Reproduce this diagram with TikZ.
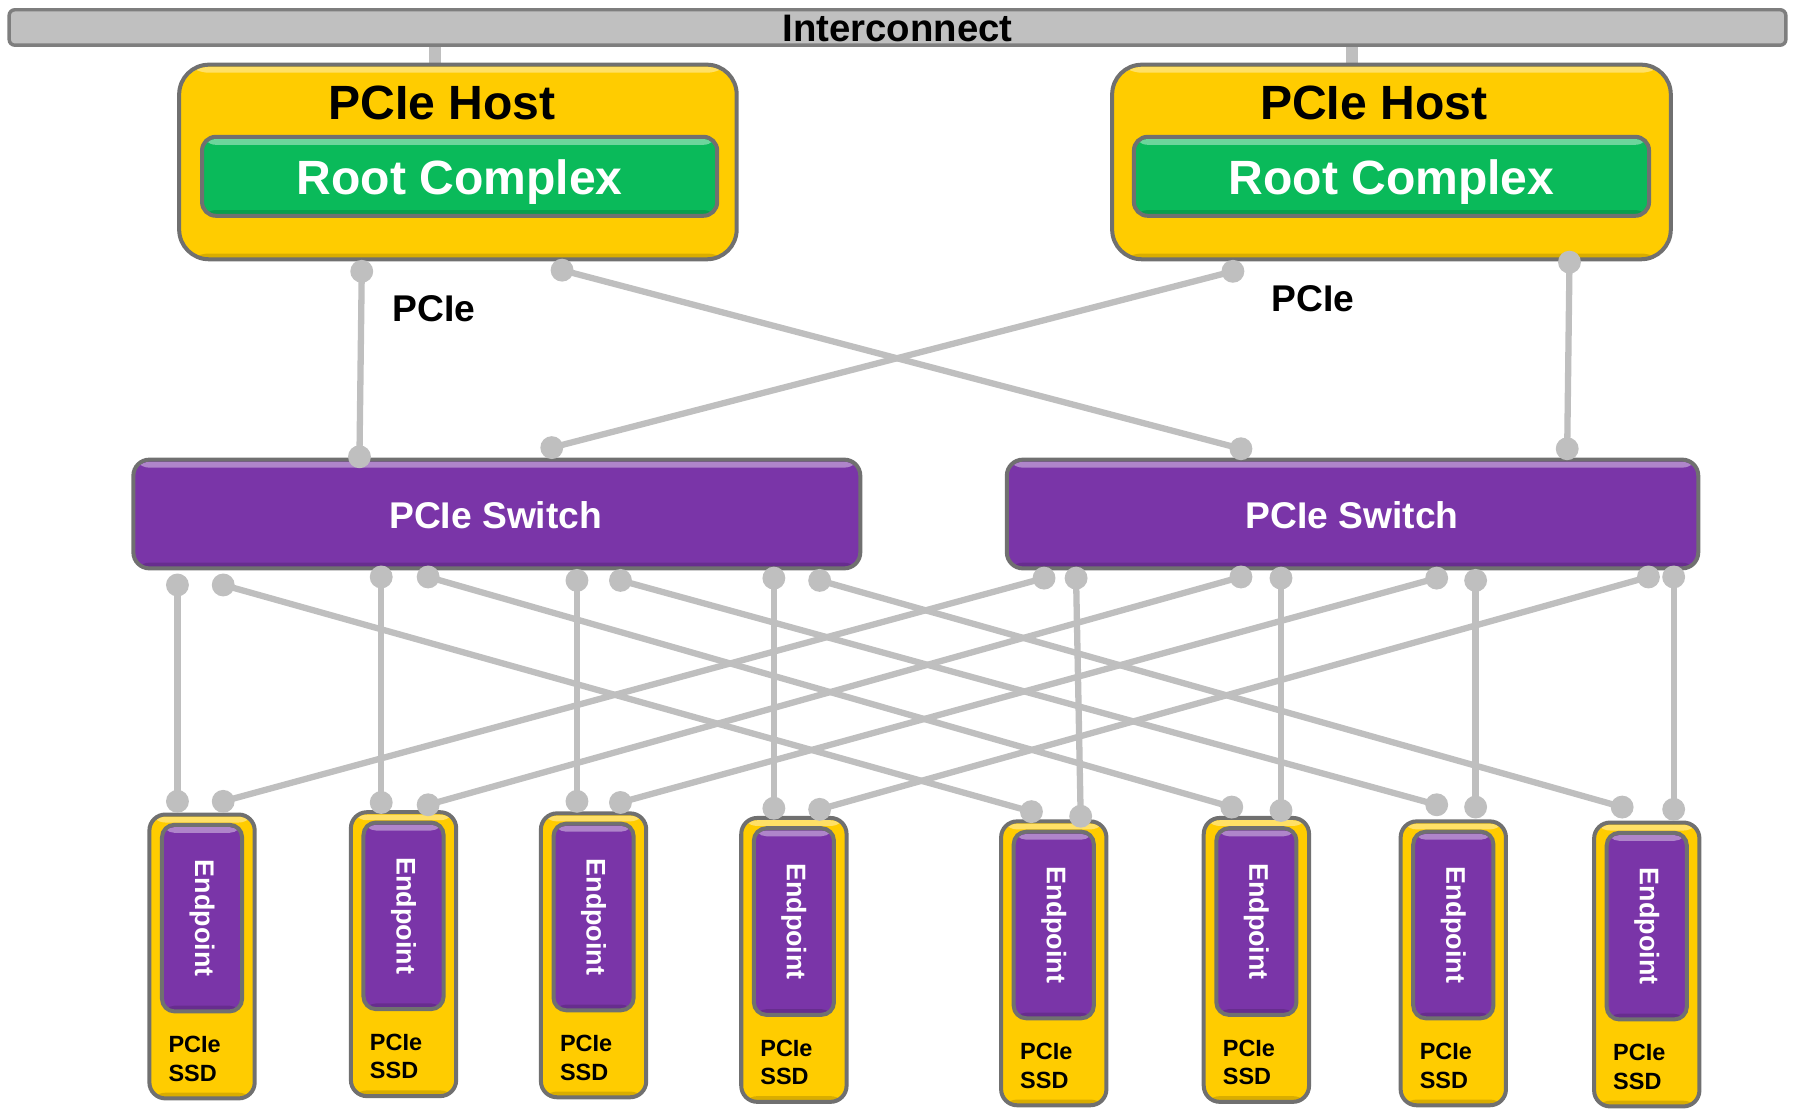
\documentclass[tikz,border=0pt]{standalone}
\usepackage{fontspec}
\setmainfont{Liberation Sans}
\usetikzlibrary{calc}
\definecolor{hostyellow}{HTML}{FFCC00}
\definecolor{rcgreen}{HTML}{0ABA5A}
\definecolor{swpurple}{HTML}{7A35A8}
\definecolor{linegray}{HTML}{BFBFBF}
\definecolor{edgegray}{HTML}{707070}
\definecolor{bargray}{HTML}{C0C0C0}
\pgfdeclarelayer{bg}
\pgfsetlayers{bg,main}
\tikzset{
  panel/.style={draw=edgegray, line width=3.5pt, inner sep=0pt, outer sep=0pt,
    path picture={
      \fill[white,opacity=0.4] ([yshift=-2pt]path picture bounding box.north west) rectangle ([yshift=-7pt]path picture bounding box.north east);
      \fill[black,opacity=0.15] ([yshift=5pt]path picture bounding box.south west) rectangle (path picture bounding box.south east);
    }},
  busbar/.style={draw=edgegray!90, line width=3pt, fill=bargray, rounded corners=5pt, inner sep=0pt},
  hostbox/.style={panel, fill=hostyellow, rounded corners=26pt},
  rcbox/.style={panel, fill=rcgreen, rounded corners=12pt},
  switchbox/.style={panel, fill=swpurple, rounded corners=14pt},
  ssdbox/.style={panel, fill=hostyellow, rounded corners=14pt},
  epbox/.style={panel, fill=swpurple, rounded corners=11pt},
  dot/.style={circle, fill=linegray, inner sep=0pt, minimum size=20pt},
  link/.style={draw=linegray, line width=5.5pt},
  buslink/.style={draw=linegray, line width=10pt},
  bigtext/.style={font=\fontsize{42}{46}\selectfont\bfseries, inner sep=0pt, anchor=base},
  midtext/.style={font=\fontsize{32.5}{36}\selectfont\bfseries, inner sep=0pt, anchor=base},
  eptext/.style={font=\fontsize{23.5}{26}\selectfont\bfseries, text=white, inner sep=0pt, rotate=-90},
  ssdtext/.style={font=\fontsize{20.5}{25}\selectfont\bfseries, inner sep=0pt, align=left, anchor=north west},
}
\begin{document}
\begin{tikzpicture}[x=1pt,y=-1pt]
\useasboundingbox (0,0) rectangle (1568,968);

% interconnect bar
\node[busbar, minimum width=1552pt, minimum height=31pt] (bar) at (784,24) {};
\node[midtext, font=\fontsize{33.5}{36}\selectfont\bfseries] (bartext) at (784,36) {Interconnect};

% hosts
\node[hostbox, minimum width=487pt, minimum height=170pt] (host1) at (400,141.5) {};
\node[hostbox, minimum width=488pt, minimum height=170pt] (host2) at (1215.5,141.5) {};
\node[bigtext] (host1t) at (386,104) {PCIe Host};
\node[bigtext] (host2t) at (1200,104) {PCIe Host};
\node[rcbox, minimum width=450pt, minimum height=69pt] (rc1) at (401.5,154) {};
\node[rcbox, minimum width=450pt, minimum height=69pt] (rc2) at (1215.5,154) {};
\node[bigtext, text=white] (rc1t) at (401.5,170) {Root Complex};
\node[bigtext, text=white] (rc2t) at (1215.5,170) {Root Complex};

% PCIe labels
\node[midtext] (pcie1) at (379,281) {PCIe};
\node[midtext] (pcie2) at (1147,272) {PCIe};

% switches
\node[switchbox, minimum width=635pt, minimum height=95pt] (sw1) at (434,449) {};
\node[switchbox, minimum width=604pt, minimum height=95pt] (sw2) at (1181.5,449) {};
\node[midtext, text=white] (sw1t) at (433,462) {PCIe Switch};
\node[midtext, text=white] (sw2t) at (1181,462) {PCIe Switch};

% SSDs
\foreach \i/\xa/\ya in {1/129/710, 2/305/708, 3/471/709, 4/646/713, 5/873/716, 6/1050/713, 7/1222/716, 8/1391/717} {
  \node[ssdbox, minimum width=92pt, minimum height=248pt] (ssd\i) at (\xa+47.5,\ya+125.5) {};
  \node[epbox, minimum width=70pt, minimum height=163pt] (ep\i) at (\xa+47.5,\ya+92) {};
  \node[eptext] (ept\i) at (ep\i.center) {Endpoint};
  \node[ssdtext] (ssdt\i) at (\xa+18,\ya+195) {PCIe\\SSD};
}

% dots on hosts and switch tops
\node[dot] (h1a) at (316,237) {};
\node[dot] (h1b) at (491,236) {};
\node[dot] (h2a) at (1077,237) {};
\node[dot] (h2b) at (1371,229) {};
\node[dot] (s1t1) at (314,399) {};
\node[dot] (s1t2) at (482,391) {};
\node[dot] (s2t1) at (1084,392) {};
\node[dot] (s2t2) at (1369,392) {};

% dots under switches
\foreach \k/\xx/\yy in {1/155/511, 2/195/511, 3/333/504, 4/374/504, 5/504/507, 6/542/507, 7/676/505, 8/716/507}
  \node[dot] (s1b\k) at (\xx,\yy) {};
\foreach \k/\xx/\yy in {1/912/505, 2/940/505, 3/1084/504, 4/1119/505, 5/1255/505, 6/1289/507, 7/1440/504, 8/1462/504}
  \node[dot] (s2b\k) at (\xx,\yy) {};

% dots on SSDs
\foreach \k/\xa/\ya/\xb/\yb in {1/155/700/195/700, 2/333/701/374/703, 3/504/700/542/701, 4/676/706/716/707,
    5/901/709/944/713, 6/1076/705/1119/708, 7/1255/703/1289/705, 8/1417/705/1462/707} {
  \node[dot] (e\k a) at (\xa,\ya) {};
  \node[dot] (e\k b) at (\xb,\yb) {};
}

\coordinate (busx1) at (380,0);
\coordinate (busx2) at (1181,0);

\begin{pgfonlayer}{bg}
  \draw[buslink] (bar.south -| busx1) -- (host1.north -| busx1);
  \draw[buslink] (bar.south -| busx2) -- (host2.north -| busx2);
  \draw[link] (h1a.center) -- (s1t1.center);
  \draw[link] (h1b.center) -- (s2t1.center);
  \draw[link] (h2a.center) -- (s1t2.center);
  \draw[link] (h2b.center) -- (s2t2.center);
  \foreach \k in {1,2,3,4} {
    \pgfmathtruncatemacro{\odd}{2*\k-1}
    \pgfmathtruncatemacro{\even}{2*\k}
    \pgfmathtruncatemacro{\far}{\k+4}
    \draw[link] (s1b\odd.center) -- (e\k a.center);
    \draw[link] (s1b\even.center) -- (e\far a.center);
    \draw[link] (s2b\odd.center) -- (e\k b.center);
    \draw[link] (s2b\even.center) -- (e\far b.center);
  }
\end{pgfonlayer}
\end{tikzpicture}
\end{document}
